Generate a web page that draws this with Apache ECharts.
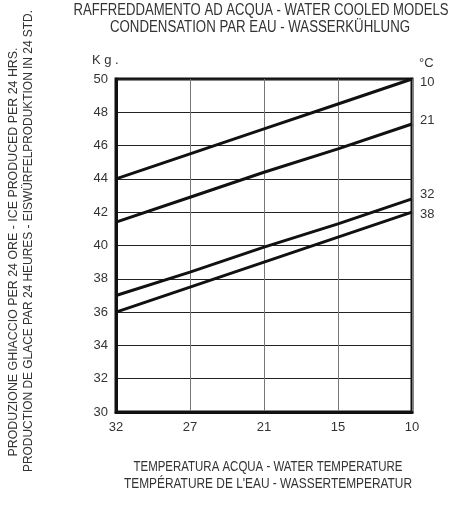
<!DOCTYPE html>
<html><head><meta charset="utf-8">
<script src="https://cdn.jsdelivr.net/npm/echarts@6/dist/echarts.min.js"></script>
<style>html,body{margin:0;padding:0;background:#fff}#c{width:454px;height:507px}</style>
</head><body><div id="c"></div>
<script>
const waterTemps = ['32', '27', '21', '15', '10'];
const yTicks = [30, 32, 34, 36, 38, 40, 42, 44, 46, 48, 50];
const airTempNames = ['10', '21', '32', '38'];
const s10 = [44.0, 45.5, 47.0, 48.5, 50.0];
const s21 = [41.4, 42.9, 44.4, 45.8, 47.3];
const s32 = [37.0, 38.4, 39.9, 41.3, 42.8];
const s38 = [36.0, 37.5, 39.0, 40.5, 42.0];
const seriesValues = [s10, s21, s32, s38];
const labelOffsets = [[8, 3], [8, -4], [8, -4], [8, 2]];

const sans = '"Liberation Sans", Arial, Helvetica, sans-serif';
const mctx = document.createElement('canvas').getContext('2d');
function fitScale(text, font, target) {
  mctx.font = font;
  return target / mctx.measureText(text).width;
}
function condText(text, size, cx, cy, target, rot) {
  const font = size + 'px ' + sans;
  return {
    type: 'text', x: cx, y: cy, rotation: rot || 0,
    scaleX: fitScale(text, font, target), scaleY: 1,
    style: {text: text, fill: '#333', font: font, align: 'center', verticalAlign: 'middle'}
  };
}

const chart = echarts.init(document.getElementById('c'), null, {renderer: 'canvas'});
chart.setOption({
  animation: false,
  backgroundColor: '#fff',
  grid: {left: 116, right: 42, top: 79, bottom: 95, show: true, borderColor: '#111', borderWidth: 3},
  xAxis: {
    type: 'category', data: waterTemps, boundaryGap: false,
    axisLine: {lineStyle: {color: '#111', width: 3}},
    axisTick: {show: false},
    axisLabel: {color: '#333', fontSize: 13, fontFamily: sans, margin: 9},
    splitLine: {show: true, lineStyle: {color: '#777', width: 1}}
  },
  yAxis: {
    type: 'value', min: yTicks[0], max: yTicks[yTicks.length - 1], interval: 2,
    axisLine: {show: true, lineStyle: {color: '#111', width: 3}},
    axisTick: {show: false},
    axisLabel: {color: '#333', fontSize: 13, fontFamily: sans, margin: 8},
    splitLine: {show: true, lineStyle: {color: '#222', width: 1}}
  },
  series: seriesValues.map((vals, i) => ({
    type: 'line', name: airTempNames[i], data: vals,
    symbol: 'none', lineStyle: {color: '#111', width: 3},
    endLabel: {show: true, formatter: '{a}', color: '#333', fontSize: 13, fontFamily: sans,
      offset: labelOffsets[i], distance: 0}
  })),
  graphic: [
    condText('RAFFREDDAMENTO AD ACQUA - WATER COOLED MODELS', 16, 261, 11, 375),
    condText('CONDENSATION PAR EAU - WASSERKÜHLUNG', 16, 260, 28, 300),
    condText('TEMPERATURA ACQUA - WATER TEMPERATURE', 14.5, 268, 467, 269),
    condText('TEMPÉRATURE DE L\'EAU - WASSERTEMPERATUR', 14.5, 268, 484, 288),
    condText('PRODUZIONE GHIACCIO PER 24 ORE - ICE PRODUCED PER 24 HRS.', 13.5, 13, 252, 409, Math.PI / 2),
    condText('PRODUCTION DE GLACE PAR 24 HEURES - EISWÜRFELPRODUKTION IN 24 STD.', 13.5, 28, 241, 462, Math.PI / 2),
    {type: 'text', x: 92, y: 60, style: {text: 'K g .', fill: '#333', font: '13px ' + sans, verticalAlign: 'middle'}},
    {type: 'text', x: 419, y: 63, style: {text: '°C', fill: '#333', font: '13px ' + sans, verticalAlign: 'middle'}}
  ]
});
</script></body></html>
